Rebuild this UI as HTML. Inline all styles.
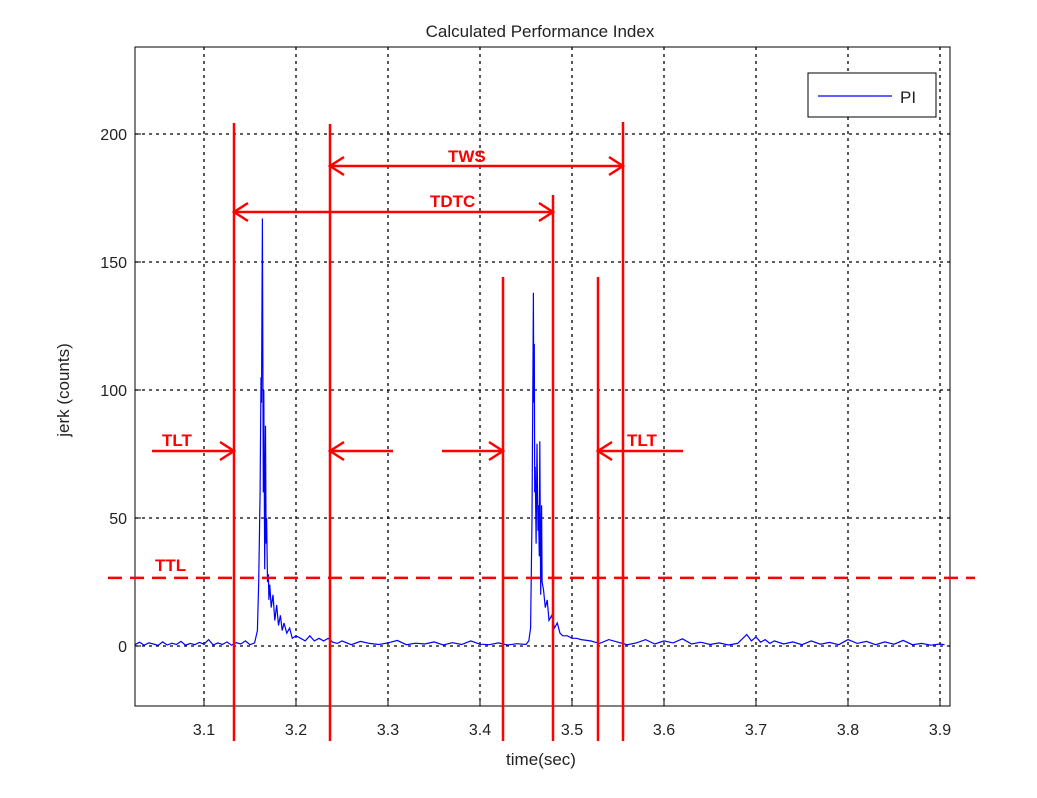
<!DOCTYPE html>
<html><head><meta charset="utf-8"><style>
body{margin:0;background:#fff;}
svg text{font-family:"Liberation Sans",sans-serif;}
</style></head><body>
<svg width="1037" height="793" xmlns="http://www.w3.org/2000/svg">
<g id="grid"></g>
<g id="ticks"></g>
<g id="series"></g>
<rect x="135" y="47" width="815" height="659" fill="none" stroke="#000" stroke-width="1"/>
<text x="540" y="37" font-size="17" text-anchor="middle" fill="#222">Calculated Performance Index</text>
<text x="541" y="765" font-size="17" text-anchor="middle" fill="#222">time(sec)</text>
<text x="0" y="0" font-size="17" text-anchor="middle" fill="#222" transform="translate(69,390) rotate(-90)">jerk (counts)</text>
<g>
<rect x="808" y="73" width="128" height="44" fill="#fff" stroke="#000"/>
<line x1="818" y1="96" x2="892" y2="96" stroke="#00f" stroke-width="1.2"/>
<text x="900" y="103" font-size="17" fill="#222">PI</text>
</g>
<g id="annot" stroke="#f00" stroke-width="2.5" fill="none"></g>
</svg>
<script>
const xTicks=[3.1,3.2,3.3,3.4,3.5,3.6,3.7,3.8,3.9];
const yTicks=[0,50,100,150,200];
const times=[3.025,3.03,3.035,3.04,3.045,3.05,3.055,3.06,3.065,3.07,3.075,3.08,3.085,3.09,3.095,3.1,3.105,3.11,3.115,3.12,3.125,3.13,3.135,3.14,3.145,3.15,3.155,3.158,3.1595,3.161,3.162,3.1625,3.1635,3.1645,3.165,3.166,3.1668,3.1675,3.168,3.169,3.170,3.1705,3.1715,3.173,3.175,3.177,3.179,3.181,3.183,3.185,3.187,3.19,3.193,3.196,3.2,3.205,3.21,3.215,3.22,3.225,3.23,3.235,3.24,3.245,3.25,3.26,3.27,3.28,3.29,3.3,3.31,3.32,3.33,3.34,3.35,3.36,3.37,3.38,3.39,3.4,3.41,3.42,3.43,3.44,3.45,3.453,3.455,3.4565,3.4575,3.458,3.4585,3.459,3.4595,3.46,3.461,3.462,3.463,3.4635,3.4645,3.465,3.466,3.467,3.4675,3.469,3.471,3.473,3.475,3.478,3.481,3.484,3.487,3.49,3.495,3.5,3.505,3.51,3.52,3.53,3.54,3.55,3.56,3.57,3.58,3.59,3.6,3.61,3.62,3.63,3.64,3.65,3.66,3.67,3.68,3.69,3.695,3.7,3.705,3.71,3.715,3.72,3.73,3.74,3.75,3.76,3.77,3.78,3.79,3.8,3.81,3.82,3.83,3.84,3.85,3.86,3.87,3.88,3.89,3.9,3.905,3.911];
const values=[0.5,1.5,0.3,1.2,0.8,0.2,1.6,0.4,1.1,0.6,1.8,0.3,1.0,0.5,1.4,0.7,2.5,0.4,1.2,0.6,1.6,0.3,1.3,0.8,2.0,0.5,1.2,6,25,60,105,95,167,60,100,30,86,40,50,25,28,18,24,15,20,10,16,8,12,6,9,5,7,3,4,3,2,4,2,3,2,3,1.5,1,2,0.5,1.8,1,0.6,1.2,2.2,0.5,1.1,0.8,1.6,0.4,1.3,0.6,2.0,0.7,0.5,1.2,0.4,0.9,0.6,2,7,50,105,138,95,118,60,70,40,79,45,55,35,80,20,55,25,22,15,18,10,12,7,9,5,4,4,3,3,2.5,2,1,2.5,1.5,0.5,1.2,2.5,0.8,2,1.2,2.8,0.8,1.5,0.6,1.2,0.4,1.0,4.5,2,3.5,1.5,2.5,1,2,0.8,1.6,0.5,2,0.7,1.4,0.5,2.5,1,1.8,0.5,1.6,0.7,2.2,0.5,1.0,0.3,0.8,0.5];
const xs=t=>204+(t-3.1)*920;
const ys=v=>646-v*2.56;
const NS="http://www.w3.org/2000/svg";
function mk(tag,attrs,parent){const e=document.createElementNS(NS,tag);for(const k in attrs)e.setAttribute(k,attrs[k]);parent.appendChild(e);return e;}
const grid=document.getElementById('grid'),ticks=document.getElementById('ticks');
xTicks.forEach(t=>{
 const x=xs(t);
 const g=mk('line',{x1:x,y1:47,x2:x,y2:706,stroke:'#000','stroke-dasharray':'3,4','stroke-width':1.3},grid);
 
 
 mk('line',{x1:x,y1:706,x2:x,y2:700,stroke:'#000'},ticks);
 const tx=mk('text',{x:x,y:735,'font-size':16,'text-anchor':'middle',fill:'#222'},ticks);
 tx.textContent=t.toFixed(1);
 
 
});
yTicks.forEach(v=>{
 const y=ys(v);
 const g=mk('line',{x1:135,y1:y,x2:950,y2:y,stroke:'#000','stroke-dasharray':'3,4','stroke-width':1.3},grid);
 
 
 mk('line',{x1:135,y1:y,x2:141,y2:y,stroke:'#000'},ticks);
 const tx=mk('text',{x:127,y:y+6,'font-size':16,'text-anchor':'end',fill:'#222'},ticks);
 tx.textContent=v;
 
 
});
const pts=times.map((t,i)=>xs(t).toFixed(1)+','+ys(values[i]).toFixed(1)).join(' ');
const pl=mk('polyline',{points:pts,fill:'none',stroke:'#00f','stroke-width':1.2},document.getElementById('series'));


const A=document.getElementById('annot');
[[234,123],[330,124],[503,277],[553,195],[598,277],[623,122]].forEach(([x,y0])=>{
 const l=mk('line',{x1:x,y1:y0,x2:x,y2:741},A);
 
 
});
function arrow(x1,x2,y,both){
 const d=x2>x1?1:-1;
 mk('line',{x1:x1,y1:y,x2:x2,y2:y},A);
 mk('polyline',{points:`${x2-d*14},${y-9} ${x2},${y} ${x2-d*14},${y+9}`},A);
 if(both)mk('polyline',{points:`${x1+d*14},${y-9} ${x1},${y} ${x1+d*14},${y+9}`},A);
}
arrow(330,623,166,true);arrow(234,553,212,true);
arrow(152,234,451);arrow(393,330,451);arrow(442,503,451);arrow(683,598,451);
const ttl=mk('line',{x1:108,y1:ys(26.6),x2:975,y2:ys(26.6),'stroke-dasharray':'14,8'},A);


[['TWS',448,162],['TDTC',430,207],['TLT',162,446],['TLT',627,446],['TTL',155,571]].forEach(([s,x,y])=>{
 const t=mk('text',{x:x,y:y,'font-size':17,'font-weight':'bold',fill:'#f00',stroke:'none'},A);
 t.textContent=s;
 
 
});
</script>
</body></html>
